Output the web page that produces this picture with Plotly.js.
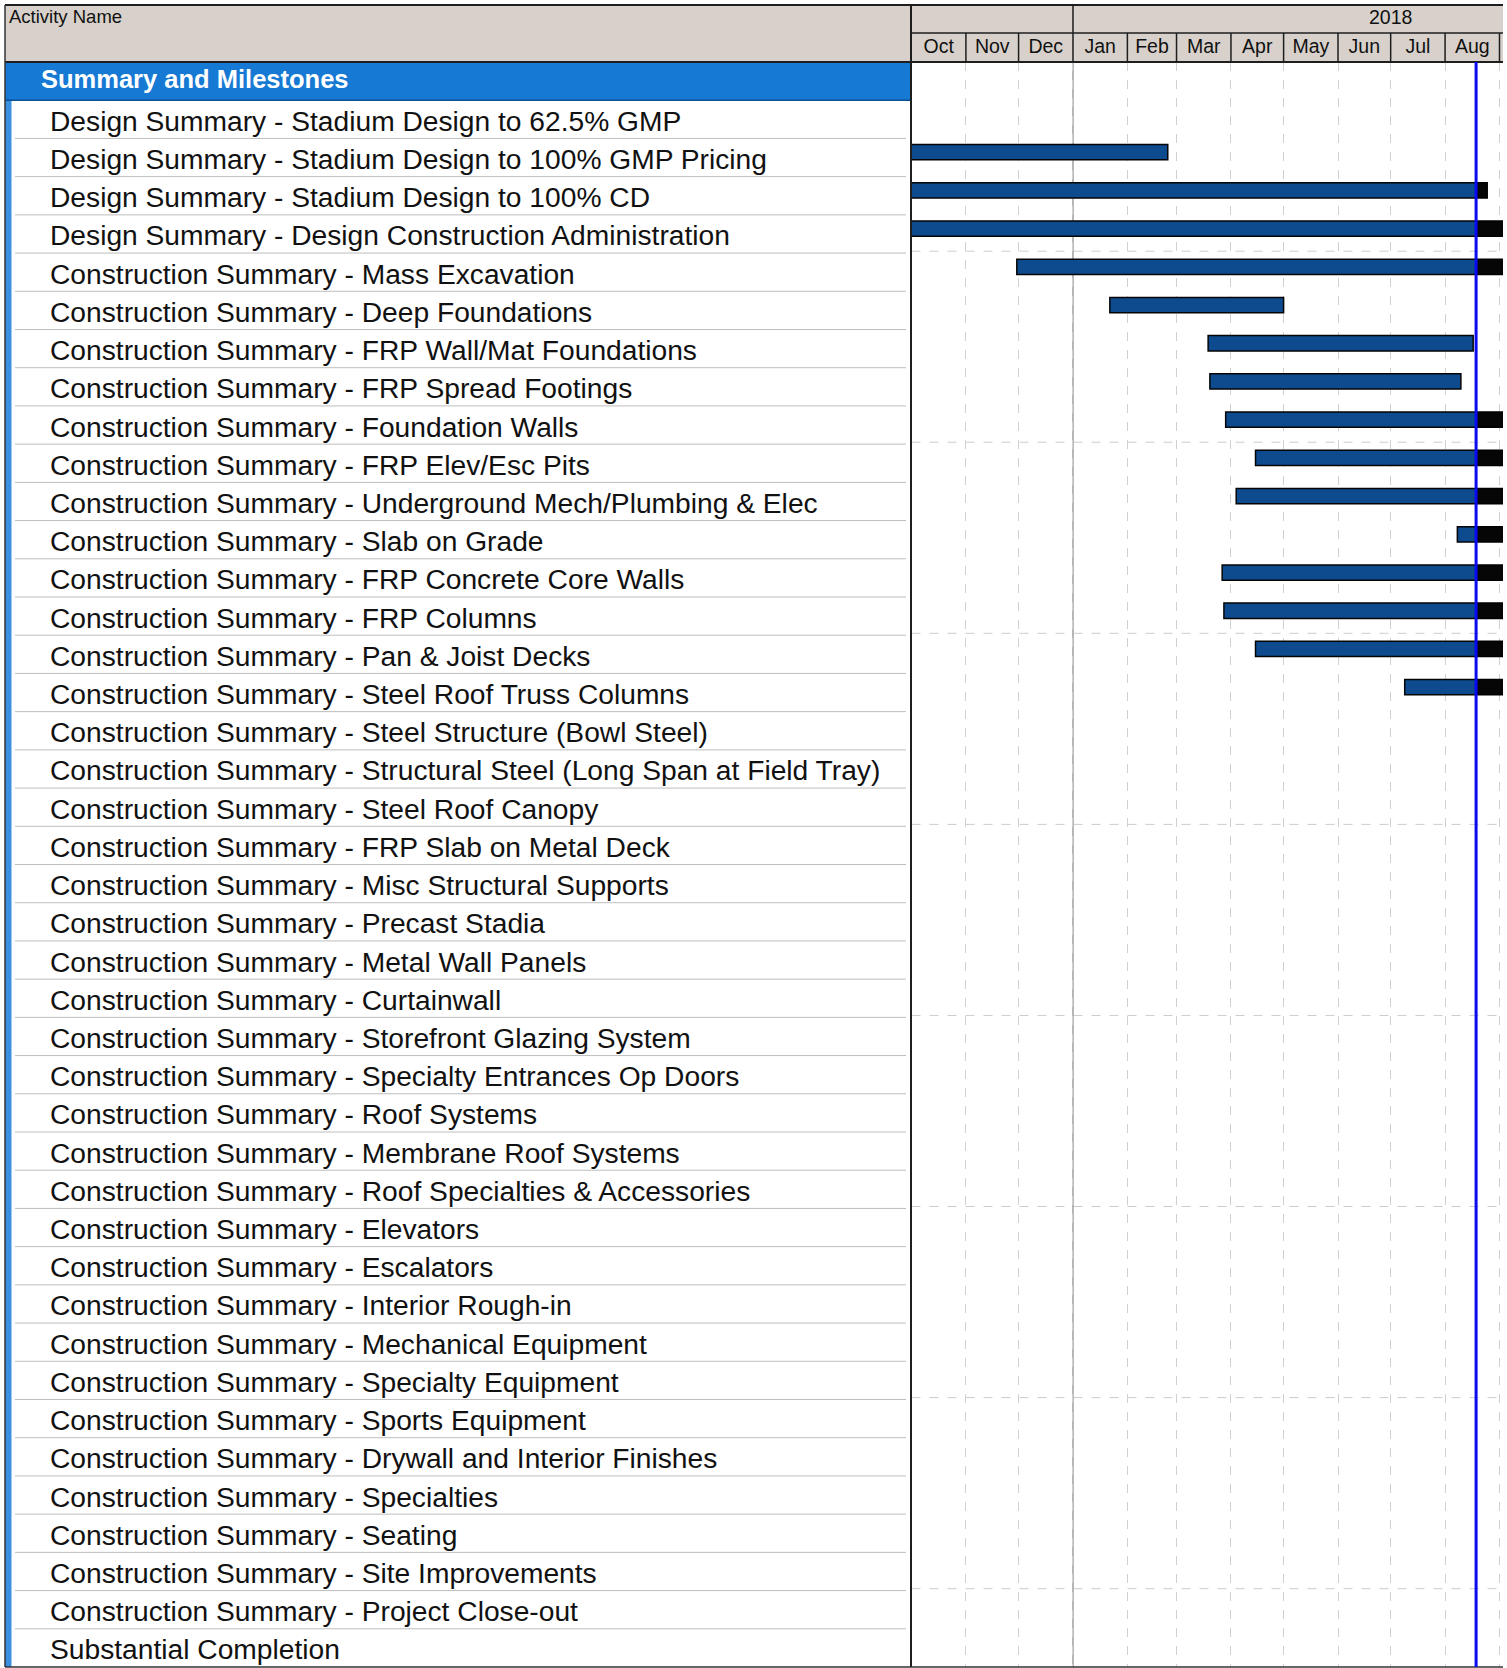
<!DOCTYPE html>
<html><head><meta charset="utf-8">
<script src="https://cdn.plot.ly/plotly-3.0.1.min.js"></script>
<style>html,body{margin:0;padding:0;background:#fff;} #chart{width:1507px;height:1668px;}</style>
</head><body><div id="chart"></div>
<script>
// ---------------- data ----------------
const headerTitle = "Activity Name";
const groupName = "Summary and Milestones";
const yearLabel = "2018";
const yearLabelDate = "2018-07-01";
const activities = [
  "Design Summary - Stadium Design to 62.5% GMP",
  "Design Summary - Stadium Design to 100% GMP Pricing",
  "Design Summary - Stadium Design to 100% CD",
  "Design Summary - Design Construction Administration",
  "Construction Summary - Mass Excavation",
  "Construction Summary - Deep Foundations",
  "Construction Summary - FRP Wall/Mat Foundations",
  "Construction Summary - FRP Spread Footings",
  "Construction Summary - Foundation Walls",
  "Construction Summary - FRP Elev/Esc Pits",
  "Construction Summary - Underground Mech/Plumbing & Elec",
  "Construction Summary - Slab on Grade",
  "Construction Summary - FRP Concrete Core Walls",
  "Construction Summary - FRP Columns",
  "Construction Summary - Pan & Joist Decks",
  "Construction Summary - Steel Roof Truss Columns",
  "Construction Summary - Steel Structure (Bowl Steel)",
  "Construction Summary - Structural Steel (Long Span at Field Tray)",
  "Construction Summary - Steel Roof Canopy",
  "Construction Summary - FRP Slab on Metal Deck",
  "Construction Summary - Misc Structural Supports",
  "Construction Summary - Precast Stadia",
  "Construction Summary - Metal Wall Panels",
  "Construction Summary - Curtainwall",
  "Construction Summary - Storefront Glazing System",
  "Construction Summary - Specialty Entrances Op Doors",
  "Construction Summary - Roof Systems",
  "Construction Summary - Membrane Roof Systems",
  "Construction Summary - Roof Specialties & Accessories",
  "Construction Summary - Elevators",
  "Construction Summary - Escalators",
  "Construction Summary - Interior Rough-in",
  "Construction Summary - Mechanical Equipment",
  "Construction Summary - Specialty Equipment",
  "Construction Summary - Sports Equipment",
  "Construction Summary - Drywall and Interior Finishes",
  "Construction Summary - Specialties",
  "Construction Summary - Seating",
  "Construction Summary - Site Improvements",
  "Construction Summary - Project Close-out",
  "Substantial Completion"
];
const starts = [
  null, "2017-05-01", "2017-03-01", "2017-03-01", "2017-11-30",
  "2018-01-22", "2018-03-19", "2018-03-20", "2018-03-29", "2018-04-15",
  "2018-04-04", "2018-08-08", "2018-03-27", "2018-03-28", "2018-04-15",
  "2018-07-09", null, null, null, null,
  null, null, null, null, null,
  null, null, null, null, null,
  null, null, null, null, null,
  null, null, null, null, null, null
];
const finishes = [
  null, "2018-02-24", "2018-08-25", "2019-03-31", "2018-12-15",
  "2018-05-01", "2018-08-17", "2018-08-10", "2018-11-30", "2018-10-15",
  "2018-11-15", "2018-12-20", "2018-12-31", "2018-11-30", "2019-01-31",
  "2018-10-31", null, null, null, null,
  null, null, null, null, null,
  null, null, null, null, null,
  null, null, null, null, null,
  null, null, null, null, null, null
];
const dataDate = "2018-08-18 16:00";
const timelineStart = "2017-10-01";
const timelineEnd = "2018-09-03";
const monthStarts = ["2017-10-01","2017-11-01","2017-12-01","2018-01-01","2018-02-01","2018-03-01",
  "2018-04-01","2018-05-01","2018-06-01","2018-07-01","2018-08-01","2018-09-01"];
const yearStart = "2018-01-01";

// ---------------- helpers ----------------
const W = 1507, H = 1668;
const px = v => v / W;
const py = v => 1 - v / H;
function toMs(s){
  const parts = s.split(' ');
  const d = parts[0].split('-').map(Number);
  let h = 0, m = 0;
  if (parts[1]) { const t = parts[1].split(':').map(Number); h = t[0]; m = t[1]; }
  return Date.UTC(d[0], d[1]-1, d[2], h, m);
}
const FONT = "Liberation Sans, Arial, Helvetica, sans-serif";
const rows = [groupName].concat(activities);
const dd = toMs(dataDate);

// bars: actual (blue, up to data date) and remaining (black, after data date)
const actY = [], actBase = [], actLen = [];
const remY = [], remBase = [], remLen = [];
rows.forEach((r, i) => {
  const k = i - 1;
  if (k < 0 || !starts[k]) { actY.push(r); actBase.push(null); actLen.push(null); return; }
  const s = toMs(starts[k]), f = toMs(finishes[k]);
  if (s < dd) {
    const e = Math.min(f, dd);
    actY.push(r); actBase.push(s); actLen.push(e - s);
  } else { actY.push(r); actBase.push(null); actLen.push(null); }
  if (f > dd) {
    const b = Math.max(s, dd);
    remY.push(r); remBase.push(b); remLen.push(f - b);
  }
});

const BAR_W = 0.4, BAR_OFF = -0.2 - 0.14;
const traces = [
  { type: 'bar', orientation: 'h', y: actY, x: actLen, base: actBase, width: BAR_W, offset: BAR_OFF,
    marker: { color: '#0d4b8e', line: { color: '#050505', width: 1.5 } }, hoverinfo: 'skip', name: 'Actual' },
  { type: 'bar', orientation: 'h', y: remY, x: remLen, base: remBase, width: BAR_W, offset: BAR_OFF,
    marker: { color: '#060606', line: { color: '#000000', width: 1.5 } }, hoverinfo: 'skip', name: 'Remaining' }
];

// ---------------- shapes ----------------
const shapes = [];
const LINE_DARK = '#1e1e1e';
shapes.push({ type: 'rect', xref: 'paper', yref: 'paper', x0: px(5), x1: px(1503), y0: py(5), y1: py(62),
  fillcolor: '#d8d1cb', line: { width: 0 }, layer: 'below' });
shapes.push({ type: 'rect', xref: 'paper', yref: 'y', x0: px(5), x1: px(911), y0: -0.5, y1: 0.5,
  fillcolor: '#1679d4', line: { width: 0 }, layer: 'below' });
shapes.push({ type: 'line', xref: 'paper', yref: 'y', x0: px(5), x1: px(911), y0: 0.5, y1: 0.5,
  line: { color: '#0b4f96', width: 1.5 } });
shapes.push({ type: 'rect', xref: 'paper', yref: 'y', x0: px(5), x1: px(11.5), y0: 0.5, y1: rows.length - 0.5,
  fillcolor: '#3b8fdf', line: { width: 0 }, layer: 'below' });
for (let k = 1; k < rows.length - 1; k++) {
  shapes.push({ type: 'line', xref: 'paper', yref: 'y', x0: px(15), x1: px(906), y0: k + 0.5, y1: k + 0.5,
    line: { color: '#bdbdbd', width: 1 }, layer: 'below' });
}
for (let k = 4; k < rows.length - 1; k += 5) {
  shapes.push({ type: 'line', xref: 'x domain', yref: 'y', x0: 0, x1: 1, y0: k + 0.45, y1: k + 0.45,
    line: { color: '#cccccc', width: 1, dash: 'dash' }, layer: 'below' });
}
shapes.push({ type: 'line', xref: 'x', yref: 'y domain', x0: yearStart, x1: yearStart, y0: 0, y1: 1,
  line: { color: '#a0a0a0', width: 1.5 }, layer: 'below' });
shapes.push({ type: 'line', xref: 'paper', yref: 'paper', x0: px(5), x1: px(1503), y0: py(5), y1: py(5), line: { color: LINE_DARK, width: 2 } });
shapes.push({ type: 'line', xref: 'paper', yref: 'paper', x0: px(5), x1: px(1503), y0: py(62), y1: py(62), line: { color: LINE_DARK, width: 2 } });
shapes.push({ type: 'line', xref: 'paper', yref: 'paper', x0: px(911), x1: px(1503), y0: py(33), y1: py(33), line: { color: LINE_DARK, width: 1.5 } });
monthStarts.slice(1).forEach(m => {
  shapes.push({ type: 'line', xref: 'x', yref: 'paper', x0: m, x1: m, y0: py(33), y1: py(62), line: { color: LINE_DARK, width: 1.5 } });
});
shapes.push({ type: 'line', xref: 'x', yref: 'paper', x0: yearStart, x1: yearStart, y0: py(5), y1: py(33), line: { color: LINE_DARK, width: 1.5 } });
shapes.push({ type: 'line', xref: 'paper', yref: 'paper', x0: px(5), x1: px(5), y0: py(5), y1: py(1667), line: { color: '#333', width: 1.5 } });
shapes.push({ type: 'line', xref: 'paper', yref: 'paper', x0: px(911), x1: px(911), y0: py(5), y1: py(1667), line: { color: LINE_DARK, width: 2 } });
shapes.push({ type: 'line', xref: 'paper', yref: 'paper', x0: px(5), x1: px(1503), y0: py(1667), y1: py(1667), line: { color: '#333', width: 1.5 } });
shapes.push({ type: 'line', xref: 'x', yref: 'y domain', x0: dataDate, x1: dataDate, y0: 0, y1: 1,
  line: { color: '#0a0af0', width: 3 }, layer: 'above' });

// ---------------- annotations ----------------
const annotations = [];
annotations.push({ xref: 'paper', yref: 'paper', x: px(7), y: py(16), xanchor: 'left', yanchor: 'middle',
  text: headerTitle, showarrow: false, font: { family: FONT, size: 18.5, color: '#111' } });
annotations.push({ xref: 'x', yref: 'paper', x: yearLabelDate, y: py(17), xanchor: 'center', yanchor: 'middle',
  text: yearLabel, showarrow: false, font: { family: FONT, size: 19.5, color: '#111' } });
annotations.push({ xref: 'paper', yref: 'y', x: px(39), y: groupName, xanchor: 'left', yanchor: 'middle', yshift: 2,
  text: groupName, showarrow: false, font: { family: FONT, size: 25.5, color: '#ffffff', weight: 'bold' } });
activities.forEach(a => {
  annotations.push({ xref: 'paper', yref: 'y', x: px(48), y: a, xanchor: 'left', yanchor: 'middle', yshift: -1.5,
    text: a, showarrow: false, font: { family: FONT, size: 28.2, color: '#111' } });
});

const layout = {
  width: W, height: H, autosize: false,
  margin: { l: 0, r: 0, t: 0, b: 0, pad: 0 },
  paper_bgcolor: '#ffffff', plot_bgcolor: 'rgba(0,0,0,0)',
  showlegend: false, barmode: 'overlay',
  font: { family: FONT },
  xaxis: {
    type: 'date', domain: [px(911.5), px(1503)], range: [timelineStart, timelineEnd],
    side: 'top', tick0: monthStarts[0], dtick: 'M1', tickformat: '%b', ticklabelmode: 'period',
    ticks: '', ticklabelstandoff: 4, showline: false, zeroline: false,
    showgrid: true, gridcolor: '#d0d0d0', griddash: 'dash', gridwidth: 1,
    tickfont: { family: FONT, size: 19.5, color: '#111' }, fixedrange: true
  },
  yaxis: {
    type: 'category', categoryorder: 'array', categoryarray: rows,
    range: [rows.length - 0.5, -0.5], domain: [1 / H, py(62)],
    showticklabels: false, showgrid: false, zeroline: false, showline: false, ticks: '', fixedrange: true
  },
  shapes: shapes, annotations: annotations
};

Plotly.newPlot('chart', traces, layout, { staticPlot: true, displayModeBar: false });
</script>
</body></html>
